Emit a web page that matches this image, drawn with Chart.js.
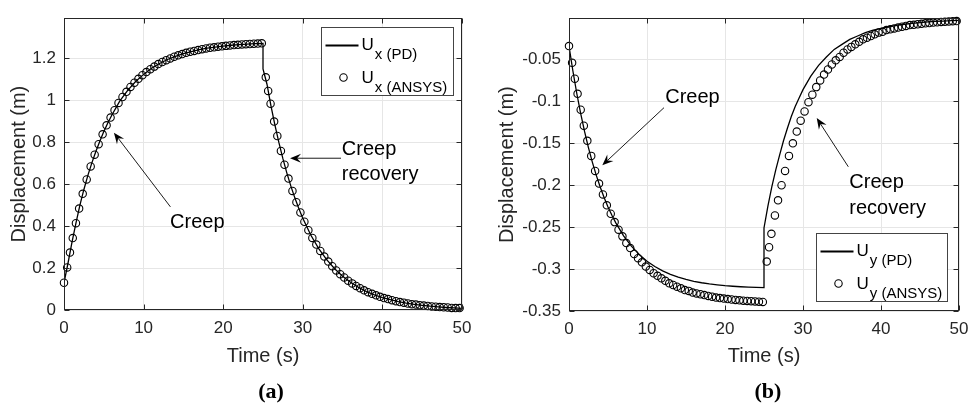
<!DOCTYPE html>
<html>
<head>
<meta charset="utf-8">
<script src="https://cdn.jsdelivr.net/npm/chart.js@4.4.0/dist/chart.umd.min.js"></script>
<style>
  html, body { margin: 0; padding: 0; background: #fff; }
  #wrap { position: relative; width: 978px; height: 408px; }
  .panel { position: absolute; top: 0; width: 489px; height: 408px; }
  #panelA { left: 0; }
  #panelB { left: 489px; }
</style>
</head>
<body>
<div id="wrap">
  <div class="panel" id="panelA"><canvas id="chartA" width="489" height="408"></canvas></div>
  <div class="panel" id="panelB"><canvas id="chartB" width="489" height="408"></canvas></div>
</div>
<script>
// ---- data ----
const xTicks = [0, 10, 20, 30, 40, 50];
const yTicksA = [0, 0.2, 0.4, 0.6, 0.8, 1, 1.2];
const yTicksB = [-0.35, -0.3, -0.25, -0.2, -0.15, -0.1, -0.05];

// PD (line) sample times, s; 25 appears twice for the sudden unload
const timePd = [0, 0.5, 1, 1.5, 2, 2.5, 3, 3.5, 4, 4.5, 5, 5.5, 6, 7, 8, 9, 10, 11, 12, 13, 14, 15, 16, 17, 18, 19, 20, 21, 22, 23, 24, 25,
  25, 25.5, 26, 26.5, 27, 27.5, 28, 28.5, 29, 29.5, 30, 31, 32, 33, 34, 35, 36, 37, 38, 39, 40, 41, 42, 43, 44, 45, 46, 47, 48, 49, 50];

const uxPd = [0.13, 0.223, 0.323, 0.414, 0.50, 0.575, 0.642, 0.702, 0.756, 0.805, 0.851, 0.892, 0.929, 0.996, 1.048, 1.090, 1.124, 1.153, 1.176, 1.195, 1.210, 1.223, 1.233, 1.242, 1.249, 1.254, 1.259, 1.263, 1.266, 1.268, 1.271, 1.272,
  1.15, 1.077, 0.974, 0.882, 0.798, 0.722, 0.653, 0.591, 0.535, 0.484, 0.438, 0.358, 0.293, 0.240, 0.197, 0.161, 0.132, 0.108, 0.088, 0.072, 0.059, 0.049, 0.040, 0.033, 0.027, 0.022, 0.018, 0.015, 0.012, 0.010, 0.008];

const uyPd = [-0.034, -0.0638, -0.0906, -0.1145, -0.1361, -0.1554, -0.1727, -0.1882, -0.2022, -0.2146, -0.2259, -0.2359, -0.2449, -0.2603, -0.2726, -0.2826, -0.2906, -0.2970, -0.3022, -0.3063, -0.3097, -0.3124, -0.3146, -0.3163, -0.3177, -0.3188, -0.3198, -0.3205, -0.3211, -0.3216, -0.3219, -0.3222,
  -0.251, -0.225, -0.202, -0.182, -0.164, -0.147, -0.132, -0.118, -0.106, -0.096, -0.086, -0.070, -0.057, -0.047, -0.038, -0.032, -0.026, -0.022, -0.018, -0.015, -0.013, -0.011, -0.0094, -0.0080, -0.0069, -0.0060, -0.0053, -0.0047, -0.0042, -0.0038, -0.0035];

// ANSYS (circles) time steps, s
const timeAnsys = [0, 0.4, 0.75, 1.1, 1.5, 1.9, 2.35, 2.85, 3.35, 3.85, 4.35, 4.85, 5.35, 5.85, 6.35, 6.85, 7.35, 7.85, 8.35, 8.85, 9.35, 9.85,
  10.35, 10.85, 11.35, 11.85, 12.35, 12.85, 13.35, 13.85, 14.35, 14.85, 15.35, 15.85, 16.35, 16.85, 17.35, 17.85, 18.35, 18.85, 19.35, 19.85,
  20.35, 20.85, 21.35, 21.85, 22.35, 22.85, 23.35, 23.85, 24.35, 24.85,
  25.35, 25.65, 25.95, 26.4, 26.8, 27.25, 27.7, 28.2, 28.7, 29.2, 29.7, 30.2, 30.7, 31.2, 31.7, 32.2, 32.7, 33.2, 33.7, 34.2, 34.7,
  35.2, 35.7, 36.2, 36.7, 37.2, 37.7, 38.2, 38.7, 39.2, 39.7, 40.2, 40.7, 41.2, 41.7, 42.2, 42.7, 43.2, 43.7, 44.2, 44.7,
  45.2, 45.7, 46.2, 46.7, 47.2, 47.7, 48.2, 48.7, 49.2, 49.7];

const uxAnsys = [0.130, 0.203, 0.274, 0.343, 0.414, 0.484, 0.554, 0.623, 0.685, 0.741, 0.791, 0.838, 0.881, 0.918, 0.953, 0.988, 1.016, 1.041, 1.064, 1.084, 1.103, 1.120,
  1.135, 1.149, 1.161, 1.173, 1.183, 1.192, 1.200, 1.208, 1.215, 1.221, 1.227, 1.232, 1.236, 1.240, 1.244, 1.248, 1.251, 1.253, 1.256, 1.258,
  1.260, 1.262, 1.264, 1.265, 1.267, 1.268, 1.269, 1.270, 1.271, 1.272,
  1.110, 1.045, 0.984, 0.899, 0.830, 0.759, 0.693, 0.627, 0.568, 0.514, 0.465, 0.421, 0.381, 0.344, 0.312, 0.282, 0.255, 0.231, 0.209, 0.189, 0.171,
  0.155, 0.140, 0.127, 0.115, 0.104, 0.094, 0.085, 0.077, 0.070, 0.063, 0.057, 0.052, 0.047, 0.042, 0.038, 0.035, 0.031, 0.028, 0.026, 0.023,
  0.021, 0.019, 0.017, 0.016, 0.014, 0.013, 0.012, 0.010, 0.009, 0.009];

const uyAnsys = [-0.034, -0.054, -0.073, -0.091, -0.110, -0.129, -0.147, -0.165, -0.183, -0.198, -0.211, -0.224, -0.234, -0.244, -0.253, -0.261, -0.269, -0.275, -0.282, -0.287, -0.292, -0.297,
  -0.301, -0.305, -0.308, -0.311, -0.314, -0.317, -0.319, -0.321, -0.323, -0.325, -0.326, -0.328, -0.329, -0.330, -0.331, -0.332, -0.333, -0.334, -0.3346, -0.3352,
  -0.3358, -0.3363, -0.3368, -0.3373, -0.3377, -0.338, -0.3383, -0.3386, -0.3389, -0.3392,
  -0.291, -0.274, -0.258, -0.236, -0.218, -0.200, -0.183, -0.165, -0.150, -0.136, -0.123, -0.112, -0.101, -0.092, -0.083, -0.075, -0.068, -0.062, -0.056, -0.051, -0.047,
  -0.042, -0.038, -0.035, -0.032, -0.029, -0.026, -0.024, -0.022, -0.020, -0.018, -0.017, -0.015, -0.014, -0.013, -0.012, -0.011, -0.010, -0.009, -0.0087, -0.0080,
  -0.0075, -0.0069, -0.0065, -0.0060, -0.0057, -0.0053, -0.0050, -0.0047, -0.0044, -0.0042];

const legendA = [["U", "x (PD)"], ["U", "x (ANSYS)"]];
const legendB = [["U", "y (PD)"], ["U", "y (ANSYS)"]];

// ---- styling ----
const FONT = "'Liberation Sans', Arial, Helvetica, sans-serif";
const INK = "#262626";
const GRID = "#e6e6e6";
const MARK_R = 3.7;

function toPoints(xs, ys) {
    return xs.map((x, i) => ({ x: x, y: ys[i] }));
}

function drawArrow(ctx, x1, y1, x2, y2) {
    const ang = Math.atan2(y2 - y1, x2 - x1);
    const len = 11, half = 4.5, notch = 7;
    ctx.beginPath();
    ctx.moveTo(x1, y1);
    ctx.lineTo(x2 - Math.cos(ang) * notch, y2 - Math.sin(ang) * notch);
    ctx.lineWidth = 0.9;
    ctx.stroke();
    ctx.save();
    ctx.translate(x2, y2);
    ctx.rotate(ang);
    ctx.beginPath();
    ctx.moveTo(0, 0);
    ctx.lineTo(-len, -half);
    ctx.lineTo(-notch, 0);
    ctx.lineTo(-len, half);
    ctx.closePath();
    ctx.fill();
    ctx.restore();
}

// box, inward ticks, notes, arrows, legend and caption (MATLAB look)
const figurePlugin = {
    id: "figure",
    afterDraw(chart, args, opts) {
        const ctx = chart.ctx;
        const a = chart.chartArea;
        const xs = chart.scales.x, ys = chart.scales.y;
        const L = Math.round(a.left) + 0.5, R = Math.round(a.right) - 0.5;
        const T = Math.round(a.top) + 0.5, B = Math.round(a.bottom) - 0.5;
        ctx.save();
        ctx.strokeStyle = INK;
        ctx.lineWidth = 1;
        ctx.strokeRect(L, T, R - L, B - T);
        ctx.beginPath();
        xs.ticks.forEach(t => {
            const px = Math.round(xs.getPixelForValue(t.value)) + 0.5;
            ctx.moveTo(px, B); ctx.lineTo(px, B - 5);
            ctx.moveTo(px, T); ctx.lineTo(px, T + 5);
        });
        ys.ticks.forEach(t => {
            const py = Math.round(ys.getPixelForValue(t.value)) + 0.5;
            ctx.moveTo(L, py); ctx.lineTo(L + 5, py);
            ctx.moveTo(R, py); ctx.lineTo(R - 5, py);
        });
        ctx.stroke();

        // annotations
        ctx.fillStyle = "#000";
        ctx.strokeStyle = "#000";
        ctx.font = "20px " + FONT;
        ctx.textBaseline = "middle";
        opts.notes.forEach(n => {
            ctx.textAlign = n.align;
            const px = xs.getPixelForValue(n.x);
            const py = ys.getPixelForValue(n.y);
            n.lines.forEach((line, i) => ctx.fillText(line, px, py + i * n.gap));
        });
        opts.arrows.forEach(ar => {
            drawArrow(ctx, xs.getPixelForValue(ar.from[0]), ys.getPixelForValue(ar.from[1]),
                xs.getPixelForValue(ar.to[0]), ys.getPixelForValue(ar.to[1]));
        });

        // legend with subscripts
        const lg = opts.legend;
        const bx = Math.round(a.right - lg.right - lg.width) + 0.5;
        const by = Math.round(lg.top != null ? a.top + lg.top : a.bottom - lg.bottom - lg.height) + 0.5;
        ctx.fillStyle = "#fff";
        ctx.fillRect(bx, by, lg.width, lg.height);
        ctx.strokeStyle = "#444";
        ctx.lineWidth = 1;
        ctx.strokeRect(bx, by, lg.width, lg.height);
        ctx.strokeStyle = "#000";
        ctx.lineWidth = 2;
        ctx.beginPath();
        ctx.moveTo(bx + 4, by + 18);
        ctx.lineTo(bx + 37, by + 18);
        ctx.stroke();
        ctx.lineWidth = 1.1;
        ctx.beginPath();
        ctx.arc(bx + 22, by + 50, MARK_R, 0, 2 * Math.PI);
        ctx.stroke();
        ctx.fillStyle = "#000";
        ctx.textAlign = "left";
        ctx.textBaseline = "alphabetic";
        lg.rows.forEach((row, i) => {
            const base = by + (i === 0 ? 22 : 55.5);
            ctx.font = "17px " + FONT;
            ctx.fillText(row[0], bx + 40, base);
            const w = ctx.measureText(row[0]).width;
            ctx.font = "15px " + FONT;
            ctx.fillText(row[1], bx + 41 + w, base + 9);
        });

        // panel caption
        ctx.font = "bold 22px 'Liberation Serif', 'Times New Roman', serif";
        ctx.textAlign = "center";
        ctx.textBaseline = "middle";
        ctx.fillText(opts.caption.text, xs.getPixelForValue(opts.caption.x), 392);
        ctx.restore();
    }
};

function buildChart(canvasId, cfg) {
    return new Chart(document.getElementById(canvasId), {
        type: "scatter",
        data: {
            datasets: [
                {
                    label: cfg.pdLabel,
                    data: toPoints(timePd, cfg.pd),
                    showLine: true,
                    borderColor: "#000",
                    borderWidth: 1.3,
                    pointRadius: 0,
                    pointHoverRadius: 0,
                    tension: 0,
                },
                {
                    label: cfg.ansysLabel,
                    data: toPoints(timeAnsys, cfg.ansys),
                    showLine: false,
                    borderColor: "#000",
                    backgroundColor: "rgba(0,0,0,0)",
                    borderWidth: 1.1,
                    pointRadius: MARK_R,
                    clip: false,
                },
            ],
        },
        options: {
            responsive: false,
            animation: false,
            devicePixelRatio: 1,
            events: [],
            layout: { padding: { left: 0, top: 11, right: cfg.padRight, bottom: 0 } },
            plugins: {
                legend: { display: false },
                tooltip: { enabled: false },
                figure: cfg.figure,
            },
            scales: {
                x: {
                    type: "linear",
                    min: 0,
                    max: 50,
                    afterBuildTicks: s => { s.ticks = xTicks.map(v => ({ value: v })); },
                    afterFit: s => { s.height = cfg.xAxisHeight; },
                    grid: { color: GRID, drawTicks: false },
                    border: { display: false },
                    ticks: { font: { family: FONT, size: 17 }, color: INK, padding: 8, maxRotation: 0, autoSkip: false, callback: v => String(v) },
                    title: { display: true, text: "Time (s)", font: { family: FONT, size: 20 }, color: INK, padding: { top: 0, bottom: 40 } },
                },
                y: {
                    type: "linear",
                    min: cfg.yMin,
                    max: cfg.yMax,
                    afterBuildTicks: s => { s.ticks = cfg.yTicks.map(v => ({ value: v })); },
                    afterFit: s => { s.width = cfg.yAxisWidth; },
                    grid: { color: GRID, drawTicks: false },
                    border: { display: false },
                    ticks: { font: { family: FONT, size: 17 }, color: INK, padding: 8, autoSkip: false, callback: v => String(v) },
                    title: { display: true, text: "Displacement (m)", font: { family: FONT, size: 20 }, color: INK, padding: { top: cfg.yTitlePad, bottom: 0 } },
                },
            },
        },
        plugins: [figurePlugin],
    });
}

buildChart("chartA", {
    pd: uxPd,
    ansys: uxAnsys,
    pdLabel: "Ux (PD)",
    ansysLabel: "Ux (ANSYS)",
    yMin: 0,
    yMax: 1.392,
    yTicks: yTicksA,
    yAxisWidth: 64,
    xAxisHeight: 98,
    padRight: 27,
    yTitlePad: 7,
    figure: {
        notes: [
            { lines: ["Creep"], x: 16.75, y: 0.418, align: "center", gap: 0 },
            { lines: ["Creep", "recovery"], x: 34.9, y: 0.764, align: "left", gap: 25 },
        ],
        arrows: [
            { from: [13.37, 0.492], to: [6.27, 0.846] },
            { from: [34.8, 0.724], to: [28.4, 0.724] },
        ],
        legend: { rows: legendA, right: 9, top: 9, width: 132, height: 68 },
        caption: { text: "(a)", x: 26 },
    },
});

buildChart("chartB", {
    pd: uyPd,
    ansys: uyAnsys,
    pdLabel: "Uy (PD)",
    ansysLabel: "Uy (ANSYS)",
    yMin: -0.35,
    yMax: -0.0008,
    yTicks: yTicksB,
    yAxisWidth: 80,
    xAxisHeight: 97,
    padRight: 19,
    yTitlePad: 6,
    figure: {
        notes: [
            { lines: ["Creep"], x: 15.83, y: -0.0956, align: "center", gap: 0 },
            { lines: ["Creep", "recovery"], x: 35.94, y: -0.1963, align: "left", gap: 26 },
        ],
        arrows: [
            { from: [12.18, -0.1075], to: [4.27, -0.1762] },
            { from: [35.81, -0.178], to: [31.76, -0.1199] },
        ],
        legend: { rows: legendB, right: 12, bottom: 10, width: 131, height: 68 },
        caption: { text: "(b)", x: 25.5 },
    },
});
</script>
</body>
</html>
